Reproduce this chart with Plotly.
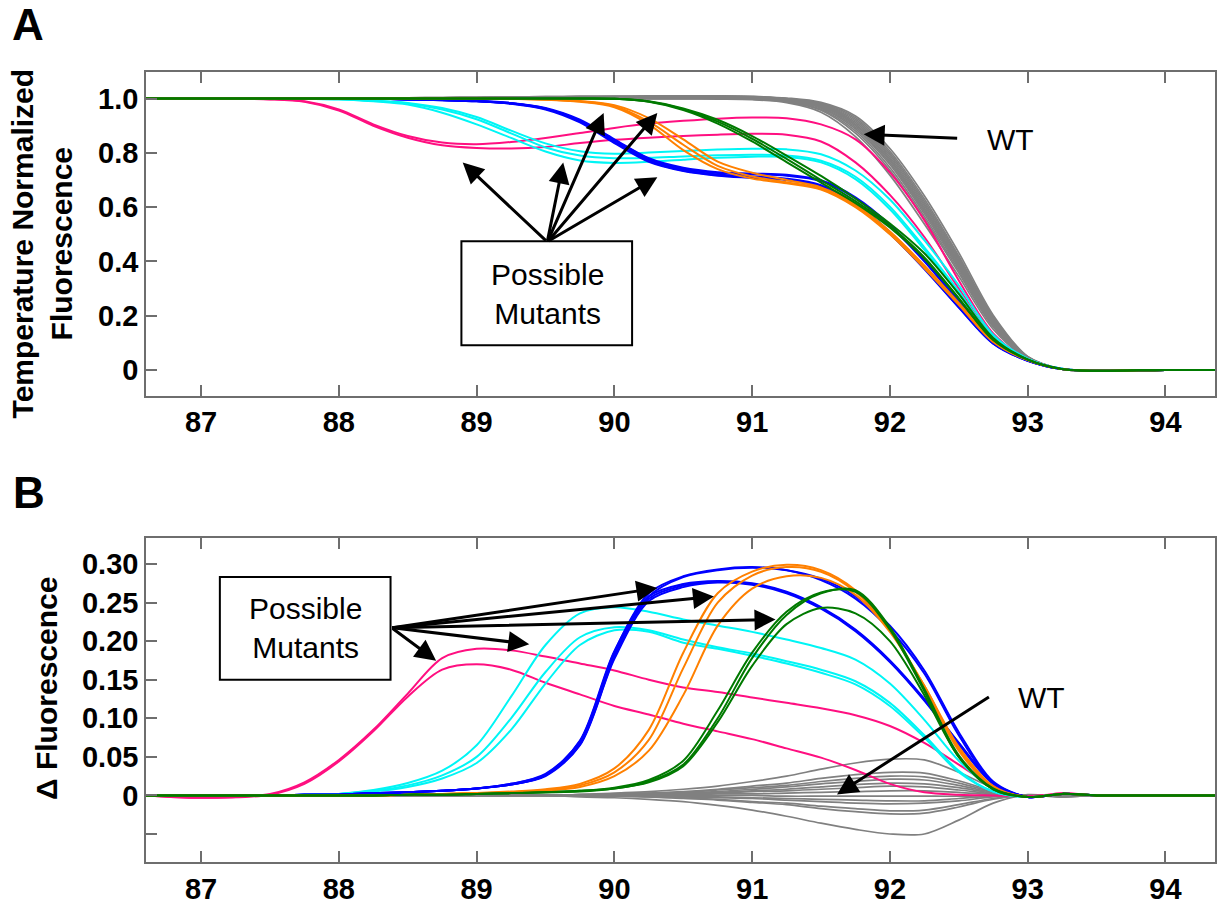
import plotly.graph_objects as go

# ---------------- data ----------------
temps = [86.6, 87.0, 87.5, 87.75, 88.0, 88.25, 88.5, 88.75, 89.0, 89.25, 89.5, 89.75,
         90.0, 90.25, 90.5, 90.75, 91.0, 91.25, 91.5, 91.75, 92.0, 92.25, 92.5, 92.75,
         93.0, 93.25, 93.5, 94.0, 94.4]

# Panel A: temperature normalized fluorescence
wt_norm = [
    [1.0, 1.0, 1.0, 1.0, 1.001, 1.002, 1.003, 1.004, 1.005, 1.006, 1.007, 1.008, 1.009, 1.01, 1.01, 1.01, 1.008, 1.002, 0.986, 0.936, 0.816, 0.642, 0.432, 0.202, 0.05, 0.004, -0.003, 0.0, 0.0],
    [1.0, 1.0, 1.0, 1.0, 1.001, 1.002, 1.003, 1.004, 1.005, 1.006, 1.007, 1.008, 1.008, 1.009, 1.009, 1.009, 1.007, 1.0, 0.983, 0.93, 0.806, 0.63, 0.42, 0.196, 0.049, 0.004, -0.003, 0.0, 0.0],
    [1.0, 1.0, 1.0, 1.0, 1.0, 1.001, 1.002, 1.003, 1.004, 1.005, 1.006, 1.007, 1.007, 1.008, 1.008, 1.008, 1.006, 0.999, 0.98, 0.924, 0.798, 0.621, 0.413, 0.191, 0.048, 0.004, -0.003, 0.0, 0.0],
    [1.0, 1.0, 1.0, 1.0, 1.0, 1.001, 1.002, 1.003, 1.004, 1.005, 1.005, 1.006, 1.006, 1.007, 1.007, 1.007, 1.005, 0.998, 0.978, 0.918, 0.791, 0.613, 0.406, 0.187, 0.047, 0.003, -0.003, 0.0, 0.0],
    [1.0, 1.0, 1.0, 1.0, 1.0, 1.001, 1.001, 1.002, 1.003, 1.004, 1.004, 1.005, 1.005, 1.006, 1.006, 1.006, 1.004, 0.997, 0.976, 0.912, 0.784, 0.606, 0.399, 0.183, 0.047, 0.003, -0.003, 0.0, 0.0],
    [1.0, 1.0, 1.0, 1.0, 1.0, 1.0, 1.001, 1.002, 1.003, 1.003, 1.004, 1.004, 1.005, 1.005, 1.005, 1.005, 1.003, 0.996, 0.973, 0.906, 0.777, 0.598, 0.393, 0.179, 0.046, 0.003, -0.003, 0.0, 0.0],
    [1.0, 1.0, 1.0, 1.0, 1.0, 1.0, 1.001, 1.001, 1.002, 1.003, 1.003, 1.004, 1.004, 1.004, 1.004, 1.004, 1.002, 0.995, 0.971, 0.901, 0.771, 0.591, 0.387, 0.176, 0.046, 0.003, -0.003, 0.0, 0.0],
    [1.0, 1.0, 1.0, 1.0, 1.0, 1.0, 1.0, 1.001, 1.002, 1.002, 1.003, 1.003, 1.003, 1.003, 1.003, 1.003, 1.001, 0.994, 0.968, 0.895, 0.764, 0.584, 0.381, 0.172, 0.045, 0.003, -0.003, 0.0, 0.0],
    [1.0, 1.0, 1.0, 1.0, 1.0, 1.0, 1.0, 1.001, 1.001, 1.002, 1.002, 1.002, 1.002, 1.002, 1.002, 1.002, 1.0, 0.992, 0.965, 0.889, 0.757, 0.576, 0.374, 0.168, 0.045, 0.003, -0.003, 0.0, 0.0],
    [1.0, 1.0, 1.0, 1.0, 1.0, 1.0, 1.0, 1.0, 1.001, 1.001, 1.001, 1.001, 1.001, 1.001, 1.001, 1.001, 0.999, 0.99, 0.961, 0.881, 0.746, 0.566, 0.366, 0.163, 0.044, 0.003, -0.003, 0.0, 0.0],
    [1.0, 1.0, 1.0, 1.0, 1.0, 1.0, 1.0, 1.0, 1.0, 1.0, 1.0, 1.0, 1.0, 1.0, 1.0, 1.0, 0.998, 0.988, 0.957, 0.873, 0.736, 0.556, 0.358, 0.158, 0.043, 0.003, -0.003, 0.0, 0.0],
    [1.0, 1.0, 1.0, 1.0, 1.0, 1.0, 1.0, 1.0, 1.0, 1.0, 1.0, 0.999, 0.999, 0.999, 0.999, 0.998, 0.996, 0.985, 0.95, 0.86, 0.718, 0.538, 0.345, 0.15, 0.042, 0.003, -0.003, 0.0, 0.0],
]
pink_norm = [
    [1.0, 1.0, 0.998, 0.99, 0.96, 0.905, 0.862, 0.838, 0.832, 0.84, 0.855, 0.873, 0.892, 0.908, 0.918, 0.926, 0.93, 0.928, 0.905, 0.85, 0.728, 0.552, 0.33, 0.135, 0.04, 0.004, -0.003, 0.0, 0.0],
    [1.0, 1.0, 0.997, 0.988, 0.956, 0.9, 0.856, 0.828, 0.818, 0.816, 0.822, 0.836, 0.848, 0.856, 0.862, 0.867, 0.87, 0.867, 0.842, 0.765, 0.645, 0.49, 0.3, 0.12, 0.036, 0.004, -0.003, 0.0, 0.0],
]
cyan_norm = [
    [1.0, 1.0, 1.0, 0.999, 0.998, 0.99, 0.978, 0.948, 0.905, 0.855, 0.805, 0.772, 0.763, 0.767, 0.775, 0.782, 0.786, 0.785, 0.765, 0.703, 0.592, 0.443, 0.28, 0.115, 0.039, 0.004, -0.003, 0.0, 0.0],
    [1.0, 1.0, 1.0, 0.999, 0.998, 0.992, 0.982, 0.96, 0.924, 0.872, 0.82, 0.79, 0.78, 0.782, 0.787, 0.791, 0.793, 0.79, 0.771, 0.712, 0.602, 0.452, 0.29, 0.12, 0.04, 0.004, -0.003, 0.0, 0.0],
    [1.0, 1.0, 1.0, 0.999, 0.998, 0.993, 0.984, 0.965, 0.932, 0.882, 0.835, 0.806, 0.797, 0.801, 0.807, 0.812, 0.815, 0.813, 0.795, 0.735, 0.628, 0.478, 0.312, 0.13, 0.042, 0.004, -0.003, 0.0, 0.0],
]
blue_norm = [
    [1.0, 1.0, 1.0, 1.0, 1.0, 0.999, 0.997, 0.994, 0.99, 0.982, 0.962, 0.915, 0.84, 0.77, 0.735, 0.718, 0.71, 0.702, 0.678, 0.61, 0.505, 0.375, 0.232, 0.098, 0.034, 0.003, -0.003, 0.0, 0.0],
    [1.0, 1.0, 1.0, 1.0, 1.0, 0.999, 0.997, 0.994, 0.99, 0.981, 0.96, 0.912, 0.836, 0.767, 0.733, 0.716, 0.708, 0.7, 0.676, 0.607, 0.502, 0.372, 0.23, 0.097, 0.034, 0.003, -0.003, 0.0, 0.0],
    [1.0, 1.0, 1.0, 1.0, 1.0, 0.999, 0.997, 0.995, 0.991, 0.983, 0.963, 0.918, 0.845, 0.774, 0.738, 0.72, 0.713, 0.705, 0.681, 0.613, 0.508, 0.378, 0.235, 0.1, 0.035, 0.003, -0.003, 0.0, 0.0],
    [1.0, 1.0, 1.0, 1.0, 1.0, 0.999, 0.997, 0.995, 0.991, 0.983, 0.964, 0.92, 0.848, 0.778, 0.742, 0.726, 0.721, 0.716, 0.696, 0.632, 0.53, 0.4, 0.25, 0.105, 0.036, 0.003, -0.003, 0.0, 0.0],
    [1.0, 1.0, 1.0, 1.0, 1.0, 0.999, 0.998, 0.995, 0.992, 0.984, 0.965, 0.922, 0.85, 0.78, 0.745, 0.729, 0.724, 0.719, 0.699, 0.636, 0.535, 0.404, 0.253, 0.107, 0.036, 0.003, -0.003, 0.0, 0.0],
]
orange_norm = [
    [1.0, 1.0, 1.0, 1.0, 1.0, 1.0, 1.0, 1.0, 1.0, 0.999, 0.996, 0.988, 0.968, 0.905, 0.81, 0.74, 0.705, 0.688, 0.665, 0.6, 0.5, 0.375, 0.24, 0.103, 0.036, 0.003, -0.003, 0.0, 0.0],
    [1.0, 1.0, 1.0, 1.0, 1.0, 1.0, 1.0, 1.0, 1.0, 0.999, 0.997, 0.99, 0.972, 0.915, 0.83, 0.752, 0.713, 0.692, 0.668, 0.604, 0.505, 0.38, 0.243, 0.105, 0.037, 0.003, -0.003, 0.0, 0.0],
    [1.0, 1.0, 1.0, 1.0, 1.0, 1.0, 1.0, 1.0, 1.0, 0.999, 0.997, 0.991, 0.976, 0.928, 0.85, 0.768, 0.727, 0.7, 0.673, 0.61, 0.51, 0.385, 0.247, 0.107, 0.037, 0.003, -0.003, 0.0, 0.0],
]
green_norm = [
    [1.0, 1.0, 1.0, 1.0, 1.0, 1.0, 1.0, 1.0, 1.0, 1.0, 1.0, 1.0, 0.999, 0.988, 0.958, 0.908, 0.842, 0.766, 0.69, 0.615, 0.525, 0.41, 0.262, 0.11, 0.038, 0.003, -0.003, 0.0, 0.0],
    [1.0, 1.0, 1.0, 1.0, 1.0, 1.0, 1.0, 1.0, 1.0, 1.0, 1.0, 1.0, 0.999, 0.989, 0.961, 0.915, 0.852, 0.778, 0.7, 0.622, 0.53, 0.415, 0.265, 0.112, 0.038, 0.003, -0.003, 0.0, 0.0],
    [1.0, 1.0, 1.0, 1.0, 1.0, 1.0, 1.0, 1.0, 1.0, 1.0, 1.0, 1.0, 0.999, 0.99, 0.964, 0.922, 0.862, 0.79, 0.715, 0.632, 0.54, 0.43, 0.28, 0.118, 0.039, 0.003, -0.003, 0.0, 0.0],
]

# Panel B: difference fluorescence
wt_diff = [
    [0, 0, 0, 0, 0, 0, 0, 0, 0, 0, 0.0, 0.001, 0.003, 0.005, 0.008, 0.012, 0.018, 0.025, 0.034, 0.042, 0.047, 0.046, 0.03, 0.01, -0.001, 0.002, 0.0, 0.0, 0.0],
    [0, 0, 0, 0, 0, 0, 0, 0, 0, 0, 0.0, 0.001, 0.002, 0.003, 0.005, 0.008, 0.012, 0.016, 0.022, 0.027, 0.03, 0.029, 0.019, 0.006, -0.001, 0.002, 0.0, 0.0, 0.0],
    [0, 0, 0, 0, 0, 0, 0, 0, 0, 0, 0.0, 0.001, 0.002, 0.003, 0.004, 0.007, 0.01, 0.013, 0.018, 0.022, 0.025, 0.024, 0.016, 0.005, 0.0, 0.001, 0.0, 0.0, 0.0],
    [0, 0, 0, 0, 0, 0, 0, 0, 0, 0, 0.0, 0.001, 0.001, 0.002, 0.003, 0.005, 0.008, 0.011, 0.015, 0.018, 0.021, 0.02, 0.013, 0.004, 0.0, 0.001, 0.0, 0.0, 0.0],
    [0, 0, 0, 0, 0, 0, 0, 0, 0, 0, 0.0, 0.0, 0.001, 0.002, 0.003, 0.004, 0.006, 0.008, 0.011, 0.014, 0.016, 0.015, 0.01, 0.003, 0.0, 0.001, 0.0, 0.0, 0.0],
    [0, 0, 0, 0, 0, 0, 0, 0, 0, 0, 0.0, 0.0, 0.001, 0.001, 0.002, 0.003, 0.005, 0.006, 0.008, 0.01, 0.012, 0.011, 0.007, 0.002, 0.0, 0.001, 0.0, 0.0, 0.0],
    [0, 0, 0, 0, 0, 0, 0, 0, 0, 0, 0.0, 0.0, 0.0, 0.001, 0.001, 0.002, 0.002, 0.003, 0.004, 0.005, 0.006, 0.006, 0.004, 0.001, 0.0, 0.0, 0.0, 0.0, 0.0],
    [0, 0, 0, 0, 0, 0, 0, 0, 0, 0, 0.0, 0.0, 0.0, 0.0, 0.0, 0.0, 0.0, -0.001, -0.001, -0.001, -0.001, -0.001, -0.001, 0.0, 0.0, 0.0, 0.0, 0.0, 0.0],
    [0, 0, 0, 0, 0, 0, 0, 0, 0, 0, 0.0, 0.0, 0.0, -0.001, -0.001, -0.002, -0.003, -0.004, -0.005, -0.006, -0.007, -0.007, -0.004, -0.001, 0.0, -0.001, 0.0, 0.0, 0.0],
    [0, 0, 0, 0, 0, 0, 0, 0, 0, 0, 0.0, 0.0, -0.001, -0.001, -0.002, -0.003, -0.004, -0.006, -0.008, -0.01, -0.011, -0.01, -0.007, -0.002, 0.0, -0.001, 0.0, 0.0, 0.0],
    [0, 0, 0, 0, 0, 0, 0, 0, 0, 0, 0.0, -0.001, -0.001, -0.002, -0.003, -0.005, -0.008, -0.01, -0.014, -0.017, -0.02, -0.019, -0.012, -0.004, 0.0, -0.002, 0.0, 0.0, 0.0],
    [0, 0, 0, 0, 0, 0, 0, 0, 0, 0, 0.0, -0.001, -0.001, -0.002, -0.004, -0.006, -0.009, -0.012, -0.017, -0.021, -0.024, -0.023, -0.015, -0.005, 0.0, -0.002, 0.0, 0.0, 0.0],
    [0, 0, 0, 0, 0, 0, 0, 0, 0, 0, 0.0, -0.002, -0.003, -0.005, -0.008, -0.013, -0.019, -0.027, -0.036, -0.044, -0.05, -0.05, -0.032, -0.01, 0.001, -0.002, 0.0, 0.0, 0.0],
]
pink_diff = [
    [0.0, -0.003, 0.002, 0.017, 0.046, 0.085, 0.132, 0.178, 0.19, 0.188, 0.18, 0.171, 0.162, 0.15, 0.14, 0.134, 0.127, 0.12, 0.113, 0.104, 0.09, 0.068, 0.04, 0.012, -0.002, 0.003, 0.0, 0.0, 0.0],
    [0.0, -0.003, 0.001, 0.015, 0.044, 0.083, 0.128, 0.163, 0.17, 0.163, 0.146, 0.131, 0.116, 0.105, 0.093, 0.083, 0.073, 0.061, 0.049, 0.033, 0.015, 0.004, 0.001, 0.0, -0.001, 0.002, 0.0, 0.0, 0.0],
]
cyan_diff = [
    [0.0, 0.0, 0.0, 0.001, 0.002, 0.007, 0.016, 0.032, 0.065, 0.128, 0.195, 0.236, 0.244, 0.238, 0.228, 0.22, 0.212, 0.202, 0.191, 0.176, 0.145, 0.098, 0.045, 0.009, -0.002, 0.002, 0.0, 0.0, 0.0],
    [0.0, 0.0, 0.0, 0.001, 0.002, 0.006, 0.013, 0.026, 0.05, 0.1, 0.16, 0.205, 0.218, 0.214, 0.202, 0.192, 0.184, 0.174, 0.163, 0.148, 0.12, 0.078, 0.032, 0.005, -0.002, 0.002, 0.0, 0.0, 0.0],
    [0.0, 0.0, 0.0, 0.001, 0.002, 0.005, 0.011, 0.022, 0.042, 0.085, 0.145, 0.195, 0.214, 0.212, 0.198, 0.19, 0.181, 0.171, 0.159, 0.144, 0.116, 0.075, 0.03, 0.005, -0.002, 0.002, 0.0, 0.0, 0.0],
]
blue_diff = [
    [0.0, 0.0, 0.0, 0.001, 0.001, 0.003, 0.004, 0.006, 0.009, 0.015, 0.028, 0.07, 0.186, 0.262, 0.284, 0.293, 0.296, 0.292, 0.279, 0.255, 0.215, 0.158, 0.078, 0.016, -0.002, 0.002, 0.0, 0.0, 0.0],
    [0.0, 0.0, 0.0, 0.001, 0.001, 0.003, 0.004, 0.006, 0.009, 0.014, 0.026, 0.066, 0.179, 0.258, 0.283, 0.292, 0.295, 0.292, 0.281, 0.258, 0.22, 0.162, 0.082, 0.018, -0.002, 0.002, 0.0, 0.0, 0.0],
    [0.0, 0.0, 0.0, 0.001, 0.001, 0.003, 0.004, 0.006, 0.009, 0.015, 0.027, 0.071, 0.187, 0.258, 0.274, 0.278, 0.275, 0.264, 0.244, 0.215, 0.175, 0.125, 0.068, 0.016, -0.002, 0.002, 0.0, 0.0, 0.0],
    [0.0, 0.0, 0.0, 0.001, 0.001, 0.003, 0.004, 0.006, 0.009, 0.014, 0.026, 0.068, 0.183, 0.255, 0.272, 0.277, 0.274, 0.263, 0.243, 0.214, 0.174, 0.124, 0.068, 0.016, -0.002, 0.002, 0.0, 0.0, 0.0],
    [0.0, 0.0, 0.0, 0.001, 0.001, 0.003, 0.004, 0.006, 0.009, 0.014, 0.025, 0.065, 0.177, 0.252, 0.27, 0.276, 0.273, 0.262, 0.242, 0.213, 0.173, 0.123, 0.066, 0.015, -0.002, 0.002, 0.0, 0.0, 0.0],
]
orange_diff = [
    [0.0, 0.0, 0.0, 0.0, 0.0, 0.0, 0.001, 0.002, 0.003, 0.005, 0.008, 0.015, 0.035, 0.085, 0.185, 0.262, 0.29, 0.299, 0.292, 0.266, 0.215, 0.14, 0.058, 0.01, -0.002, 0.002, 0.0, 0.0, 0.0],
    [0.0, 0.0, 0.0, 0.0, 0.0, 0.0, 0.001, 0.002, 0.003, 0.004, 0.007, 0.013, 0.03, 0.072, 0.165, 0.25, 0.285, 0.296, 0.29, 0.264, 0.214, 0.142, 0.06, 0.01, -0.002, 0.002, 0.0, 0.0, 0.0],
    [0.0, 0.0, 0.0, 0.0, 0.0, 0.0, 0.001, 0.002, 0.003, 0.004, 0.006, 0.011, 0.025, 0.058, 0.13, 0.22, 0.268, 0.284, 0.282, 0.26, 0.212, 0.142, 0.063, 0.012, -0.002, 0.002, 0.0, 0.0, 0.0],
]
green_diff = [
    [0.0, 0.0, 0.0, 0.0, 0.0, 0.0, 0.001, 0.001, 0.002, 0.003, 0.004, 0.006, 0.01, 0.02, 0.045, 0.11, 0.185, 0.238, 0.263, 0.264, 0.215, 0.135, 0.05, 0.008, -0.002, 0.002, 0.0, 0.0, 0.0],
    [0.0, 0.0, 0.0, 0.0, 0.0, 0.0, 0.001, 0.001, 0.002, 0.003, 0.004, 0.006, 0.009, 0.018, 0.04, 0.1, 0.178, 0.234, 0.262, 0.266, 0.218, 0.138, 0.052, 0.009, -0.002, 0.002, 0.0, 0.0, 0.0],
    [0.0, 0.0, 0.0, 0.0, 0.0, 0.0, 0.001, 0.001, 0.002, 0.003, 0.004, 0.005, 0.009, 0.017, 0.038, 0.095, 0.168, 0.222, 0.243, 0.236, 0.2, 0.13, 0.05, 0.008, -0.002, 0.002, 0.0, 0.0, 0.0],
]

x_ticks = [87, 88, 89, 90, 91, 92, 93, 94]
yA_ticks = [0, 0.2, 0.4, 0.6, 0.8, 1.0]
yA_labels = ["0", "0.2", "0.4", "0.6", "0.8", "1.0"]
yB_ticks = [-0.05, 0, 0.05, 0.10, 0.15, 0.20, 0.25, 0.30]
yB_labels = ["", "0", "0.05", "0.10", "0.15", "0.20", "0.25", "0.30"]

# ---------------- style ----------------
FONT = "Liberation Sans, Arial, sans-serif"
COLORS = {"wt": "#808080", "pink": "#FF0F80", "cyan": "#00F5F5",
          "blue": "#0000FF", "orange": "#FF8000", "green": "#007A00"}
WIDTHS = {"wt": 1.7, "pink": 2, "cyan": 2, "blue": 2, "orange": 2, "green": 2}
W, H = 1219, 907
ML, MR, MT, MB = 146, 2, 72, 37
PW, PH = W - ML - MR, H - MT - MB

def px(xp):
    return (xp - ML) / PW

def py(yp):
    return (H - MB - yp) / PH

fig = go.Figure()

groups_A = [("wt", wt_norm), ("pink", pink_norm), ("cyan", cyan_norm),
            ("blue", blue_norm), ("orange", orange_norm), ("green", green_norm)]
groups_B = [("wt", wt_diff), ("pink", pink_diff), ("cyan", cyan_diff),
            ("blue", blue_diff), ("orange", orange_diff), ("green", green_diff)]

for name, curves in groups_A:
    for c in curves:
        fig.add_trace(go.Scatter(x=temps, y=c, mode="lines", xaxis="x", yaxis="y",
                                 line=dict(color=COLORS[name], width=WIDTHS[name], shape="spline", smoothing=0.9),
                                 showlegend=False, hoverinfo="skip"))
for name, curves in groups_B:
    for c in curves:
        fig.add_trace(go.Scatter(x=temps, y=c, mode="lines", xaxis="x2", yaxis="y2",
                                 line=dict(color=COLORS[name], width=WIDTHS[name], shape="spline", smoothing=0.9),
                                 showlegend=False, hoverinfo="skip"))

AX = "#6e6e6e"
tickfont = dict(family=FONT, size=29, color="black", weight="bold")
xcommon = dict(range=[86.6, 94.36], tickvals=x_ticks, ticks="inside", ticklen=11, tickwidth=1.5,
               tickcolor=AX, showline=True, linecolor=AX, linewidth=1.5, mirror="ticks",
               showgrid=False, zeroline=False, tickfont=tickfont)
ycommon = dict(ticks="inside", ticklen=11, tickwidth=1.5, tickcolor=AX, showline=True,
               linecolor=AX, linewidth=1.5, mirror=True, showgrid=False, zeroline=False,
               tickfont=tickfont, ticklabelstandoff=0)

top_dom = [py(399), 1.0]
bot_dom = [0.0, py(543)]

fig.update_layout(
    width=W, height=H, autosize=False,
    margin=dict(l=ML, r=MR, t=MT, b=MB, pad=0),
    paper_bgcolor="white", plot_bgcolor="white",
    xaxis=dict(domain=[0, 1], anchor="y", **xcommon),
    yaxis=dict(domain=top_dom, anchor="x", range=[-0.095, 1.098], tickvals=yA_ticks,
               ticktext=yA_labels, **ycommon),
    xaxis2=dict(domain=[0, 1], anchor="y2", **xcommon),
    yaxis2=dict(domain=bot_dom, anchor="x2", range=[-0.0863, 0.3333], tickvals=yB_ticks,
                ticktext=yB_labels, **ycommon),
    showlegend=False,
)

ann = []
# Panel letters
ann.append(dict(text="<b>A</b>", x=px(28), y=py(24), xref="paper", yref="paper",
                showarrow=False, font=dict(family=FONT, size=44, color="black"),
                xanchor="center", yanchor="middle"))
ann.append(dict(text="<b>B</b>", x=px(29), y=py(497), xref="paper", yref="paper",
                showarrow=False, font=dict(family=FONT, size=44, color="black"),
                xanchor="center", yanchor="middle"))
# Axis titles
ann.append(dict(text="<b>Temperature Normalized<br>Fluorescence</b>", x=px(42), y=py(245),
                xref="paper", yref="paper", showarrow=False, textangle=-90,
                font=dict(family=FONT, size=30, color="black"), xanchor="center", yanchor="middle"))
ann.append(dict(text="<b>Δ Fluorescence</b>", x=px(47), y=py(695),
                xref="paper", yref="paper", showarrow=False, textangle=-90,
                font=dict(family=FONT, size=30, color="black"), xanchor="center", yanchor="middle"))

lab_font = dict(family=FONT, size=30, color="black")
# Text labels
ann.append(dict(text="Possible<br>Mutants", x=px(548), y=py(296.5), xref="paper", yref="paper",
                showarrow=False, font=lab_font, xanchor="center", yanchor="middle"))
ann.append(dict(text="Possible<br>Mutants", x=px(305.5), y=py(634), xref="paper", yref="paper",
                showarrow=False, font=lab_font, xanchor="center", yanchor="middle"))
ann.append(dict(text="WT", x=px(1012), y=py(140), xref="paper", yref="paper",
                showarrow=False, font=lab_font, xanchor="center", yanchor="middle"))
ann.append(dict(text="WT", x=px(1043), y=py(703.5), xref="paper", yref="paper",
                showarrow=False, font=lab_font, xanchor="center", yanchor="middle"))

def arrow(tail, tip):
    return dict(text="", x=px(tip[0]), y=py(tip[1]), xref="paper", yref="paper",
                ax=tail[0] - tip[0], ay=tail[1] - tip[1], axref="pixel", ayref="pixel",
                showarrow=True, arrowhead=2, arrowsize=1.4, arrowwidth=3, arrowcolor="black",
                standoff=0, startstandoff=0)

tailA = (548, 243)
for tip in [(463.3, 163.3), (564, 163.5), (604.5, 113.3), (658.3, 113.3), (658.3, 178.3)]:
    ann.append(arrow(tailA, tip))
ann.append(arrow((960, 139), (865, 135)))

tailB = (391.7, 633.3)
for tip in [(658.3, 593.3), (715, 601.7), (776.7, 625), (530, 650), (436.7, 666.7)]:
    ann.append(arrow(tailB, tip))
ann.append(arrow((991.7, 703.3), (838.3, 801.7)))

fig.update_layout(annotations=ann)

# Boxes around "Possible Mutants"
fig.add_shape(type="rect", xref="paper", yref="paper", x0=px(462), x1=px(633), y0=py(348), y1=py(243),
              line=dict(color="black", width=2), fillcolor="white", layer="above")
fig.add_shape(type="rect", xref="paper", yref="paper", x0=px(220), x1=px(391), y0=py(686), y1=py(582),
              line=dict(color="black", width=2), fillcolor="white", layer="above")

fig.write_html("out.html")
